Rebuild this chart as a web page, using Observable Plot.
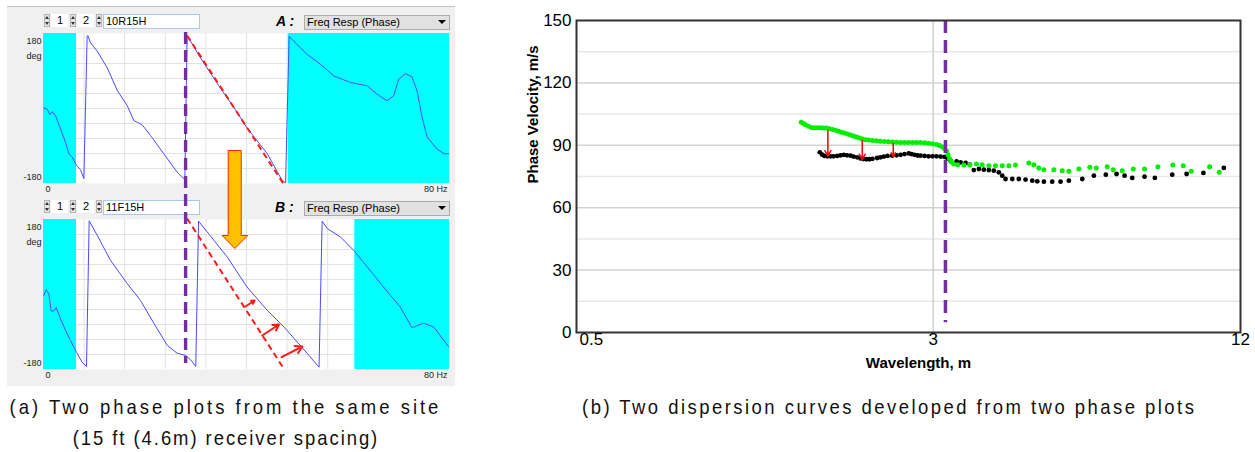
<!DOCTYPE html>
<html>
<head>
<meta charset="utf-8">
<script src="https://cdn.jsdelivr.net/npm/d3@7"></script>
<script src="https://cdn.jsdelivr.net/npm/@observablehq/plot@0.6"></script>
<style>
  html,body{margin:0;padding:0;background:#fff;}
  body{position:relative;width:1255px;height:452px;overflow:hidden;font-family:"Liberation Sans",Arial,sans-serif;}
  .abs{position:absolute;}
  .panel{left:7px;top:6px;width:448px;height:379px;background:#f0f0f0;border-top:1px solid #c4c4c4;}
  .spin{width:6px;height:13px;background:#e6e6e6;border:1px solid #b4b4b4;box-sizing:border-box;}
  .spin:before,.spin:after{content:"";position:absolute;left:0px;border-left:2px solid transparent;border-right:2px solid transparent;}
  .spin:before{top:1px;border-bottom:3px solid #333;}
  .spin:after{bottom:1px;border-top:3px solid #333;}
  .num{width:17px;height:13px;background:#fff;font-size:11px;line-height:13px;text-align:right;box-sizing:border-box;padding-right:5px;color:#000;}
  .tbox{width:97px;height:15px;background:#fff;border:1px solid #a9c9ea;box-sizing:border-box;font-size:11px;line-height:13px;padding-left:2px;color:#000;}
  .lbl{font-size:14px;font-weight:bold;font-style:italic;color:#000;}
  .dd{width:146px;height:15px;background:#e1e1e1;border:1px solid #acacac;box-sizing:border-box;font-size:11px;line-height:13px;padding-left:2px;color:#000;}
  .dd:after{content:"";position:absolute;right:3px;top:4px;border-left:4px solid transparent;border-right:4px solid transparent;border-top:4px solid #000;}
  .cap{width:800px;box-sizing:border-box;font-size:21px;color:#111;white-space:nowrap;text-align:center;line-height:22px;transform:scaleX(0.88);transform-origin:center;}
</style>
</head>
<body>
<div class="abs panel"></div>

<!-- header A -->
<div class="abs spin" style="left:44px;top:14px"></div>
<div class="abs num" style="left:51px;top:14px">1</div>
<div class="abs spin" style="left:70px;top:14px"></div>
<div class="abs num" style="left:77px;top:14px">2</div>
<div class="abs spin" style="left:96px;top:14px"></div>
<div class="abs tbox" style="left:103px;top:14px">10R15H</div>
<div class="abs lbl" style="left:276px;top:13px">A :</div>
<div class="abs dd" style="left:304px;top:15px">Freq Resp (Phase)</div>

<!-- header B -->
<div class="abs spin" style="left:44px;top:200px"></div>
<div class="abs num" style="left:51px;top:200px">1</div>
<div class="abs spin" style="left:70px;top:200px"></div>
<div class="abs num" style="left:77px;top:200px">2</div>
<div class="abs spin" style="left:96px;top:200px"></div>
<div class="abs tbox" style="left:103px;top:200px">11F15H</div>
<div class="abs lbl" style="left:275px;top:199px">B :</div>
<div class="abs dd" style="left:304px;top:201px">Freq Resp (Phase)</div>

<div id="phaseA" class="abs" style="left:0;top:0"></div>
<div id="phaseB" class="abs" style="left:0;top:140px"></div>
<div id="disp" class="abs" style="left:500px;top:0"></div>

<div class="abs cap" style="left:-176.5px;top:396px;letter-spacing:3.4px;padding-left:3.4px">(a) Two phase plots from the same site</div>
<div class="abs cap" style="left:-175px;top:427px;letter-spacing:2.2px;padding-left:2.2px">(15 ft (4.6m) receiver spacing)</div>
<div class="abs cap" style="left:487.5px;top:396px;letter-spacing:2.8px;padding-left:2.8px">(b) Two dispersion curves developed from two phase plots</div>

<script>
// ================= Panel (a): phase plots =================
const phaseAFreq = [0.07,0.72,1.25,1.71,2.37,3.35,4.34,5.0,5.65,6.5,7.29,7.95,8.6,8.74,9.26,10.57,12.54,14.5,16.5,17.8,18.5,19.4,21.1,23.7,26.3,27.85,28.3,28.5,30.9,34.55,37.5,40.1,44.1,47.0,47.7,48.4,49.3,51.95,54.6,57.2,60.5,63.8,65.7,67.7,69.0,70.0,71.3,72.6,73.6,74.6,75.6,77.5,78.9,79.9];
const phaseADeg  = [1.1,-1.3,-14.8,-7.6,-17.2,-49,-80.8,-108.6,-116.5,-136.4,-146.7,-168.2,173.6,175.2,157.7,137.9,98.1,44.1,6.7,-29.1,-33.1,-38.6,-64.9,-108.6,-152.3,-170.6,173.6,171.3,122,54.4,2.7,-46.6,-108.6,-172.2,-178.5,173.6,161.7,129.9,106.1,78.2,62.3,54.4,34.5,18.6,30.5,70.3,83.8,75.9,42.5,-21.1,-68.8,-96.7,-108.6,-108.6];
const phaseBFreq = [0.07,0.52,1.05,1.5,2.0,2.5,3.35,4.34,5.3,6.5,7.6,8.47,9.0,10.57,13.2,16.5,19.1,21.8,24.4,26.3,28.0,29.0,30.0,30.55,32.25,36.2,40.1,44.1,47.4,50.6,54.3,54.9,55.9,58.5,61.1,63.8,67.0,70.3,72.6,74.9,76.9,79.9];
const phaseBDeg  = [-2,11.6,2,-39.7,-39.7,-31.7,-58.1,-86.2,-110.2,-138.3,-162.4,-172.8,176.8,142.3,82.2,26,-14,-70.2,-122.3,-140.7,-146.3,-156.8,-172.8,176,150.3,90.2,18,-38.1,-78.2,-122.3,-174.4,176,158.4,138.3,106.2,66.1,18,-30.1,-79.8,-68.6,-78.2,-126.3];

const cyanA = [[0, 6.5], [48.25, 80]];
const cyanB = [[0, 6.5], [61.35, 80]];
const dashedAFreq = [28.3, 47.2],  dashedADeg = [175, -179];
const dashedBFreq = [28.3, 47.35], dashedBDeg = [182.4, -178];
const redArrowsBFrom = [[39.8, -28.8], [43.1, -98.4], [46.9, -150.4]];
const redArrowsBTo   = [[41.6, -14.4], [46.4, -72], [51.0, -124.8]];
const purpleFreq = 28.0;
const purpleASpan = [182.4, -196.8];
const purpleBSpan = [249.6, -165.6];
const orangeFreq = [36.39, 38.96, 38.96, 40.26, 37.7, 35.21, 36.39, 36.39];
const orangeDeg  = [345.6, 345.6, 141.6, 141.6, 110.4, 141.6, 141.6, 345.6];
const gridFreq = [8, 16, 24, 32, 40, 48, 56, 64, 72];
const gridDeg = [-144, -108, -72, -36, 0, 36, 72, 108, 144];
const phaseYLabels = ["180", "deg", "-180"];
const phaseXLabels = ["0", "80 Hz"];

const FONT = "'Liberation Sans', Arial, sans-serif";

function phasePlot(height, marginTop, freq, deg, cyan, dFreq, dDeg, extra) {
  const pts = freq.map((f, i) => ({f, d: deg[i]}));
  const dash = dFreq.map((f, i) => ({f, d: dDeg[i]}));
  return Plot.plot({
    width: 460, height,
    marginLeft: 43, marginRight: 11, marginTop, marginBottom: height - marginTop - 150,
    style: {background: "transparent", fontFamily: FONT, overflow: "visible"},
    x: {domain: [0, 80], axis: null},
    y: {domain: [-180, 180], axis: null},
    marks: [
      Plot.frame({fill: "#ffffff", stroke: "none"}),
      Plot.ruleX(gridFreq, {stroke: "#e2e2e2", strokeWidth: 1}),
      Plot.ruleY(gridDeg, {stroke: "#e2e2e2", strokeWidth: 1}),
      Plot.rect(cyan, {x1: d => d[0], x2: d => d[1], y1: d => -180, y2: d => 180, fill: "#00ffff"}),
      Plot.line(pts, {x: "f", y: "d", stroke: "#4b4bff", strokeWidth: 1}),
      Plot.line(dash, {x: "f", y: "d", stroke: "#ff1a1a", strokeWidth: 2, strokeDasharray: "6,4", strokeLinecap: "butt"}),
      Plot.text([phaseYLabels[0]], {text: d => d, frameAnchor: "top-left", dx: -2, dy: 4, textAnchor: "end", fontSize: 9, fill: "#222"}),
      Plot.text([phaseYLabels[1]], {text: d => d, frameAnchor: "top-left", dx: -2, dy: 19, textAnchor: "end", fontSize: 9, fill: "#222"}),
      Plot.text([phaseYLabels[2]], {text: d => d, frameAnchor: "bottom-left", dx: -2, dy: -4, textAnchor: "end", fontSize: 9, fill: "#222"}),
      Plot.text([phaseXLabels[0]], {text: d => d, frameAnchor: "bottom-left", dx: 2, dy: 8, textAnchor: "start", fontSize: 9, fill: "#222"}),
      Plot.text([phaseXLabels[1]], {text: d => d, frameAnchor: "bottom-right", dx: -2, dy: 8, textAnchor: "end", fontSize: 9, fill: "#222"}),
      ...extra
    ]
  });
}

const purpleA = Plot.ruleX([purpleFreq], {y1: d => purpleASpan[0], y2: d => purpleASpan[1], stroke: "#7030a0", strokeWidth: 3.4, strokeDasharray: "12,6"});
document.getElementById("phaseA").appendChild(
  phasePlot(200, 33, phaseAFreq, phaseADeg, cyanA, dashedAFreq, dashedADeg, [purpleA])
);

const arrowsB = redArrowsBFrom.map((p, i) => ({x1: p[0], y1: p[1], x2: redArrowsBTo[i][0], y2: redArrowsBTo[i][1]}));
const orangePoly = orangeFreq.map((f, i) => ({f, d: orangeDeg[i]}));
const extraB = [
  Plot.arrow(arrowsB, {x1: "x1", y1: "y1", x2: "x2", y2: "y2", stroke: "#ff1a1a", strokeWidth: 2, headLength: 7}),
  Plot.line(orangePoly, {x: "f", y: "d", fill: "#ffc000", stroke: "#ff2a00", strokeWidth: 1, strokeLinejoin: "miter"}),
  Plot.ruleX([purpleFreq], {y1: d => purpleBSpan[0], y2: d => purpleBSpan[1], stroke: "#7030a0", strokeWidth: 3.4, strokeDasharray: "12,6", strokeDashoffset: 14})
];
document.getElementById("phaseB").appendChild(
  phasePlot(260, 79, phaseBFreq, phaseBDeg, cyanB, dashedBFreq, dashedBDeg, extraB)
);

// ================= Panel (b): dispersion curves =================
const greenLambda = [1.654,1.671,1.686,1.709,1.732,1.756,1.780,1.804,1.829,1.854,1.879,1.905,1.931,1.957,1.984,2.010,2.038,2.066,2.094,2.122,2.151,2.181,2.210,2.241,2.281,2.323,2.365,2.408,2.452,2.497,2.542,2.589,2.636,2.684,2.733,2.782,2.833,2.885,2.937,2.991,3.045,3.087,3.129,3.157,3.185,3.207,3.229,3.258,3.292,3.352,3.444,3.539,3.647,3.742,3.856,3.974,4.096,4.219,4.349,4.618,4.724,4.831,4.942,5.169,5.369,5.532,5.787,6.081,6.259,6.577,6.757,7.038,7.398,7.783,8.267,8.844,9.27,9.61,10.44,10.90];
const greenVel = [101.1,100.5,99.9,99.2,98.6,98.4,98.4,98.4,98.3,98.3,98.0,97.6,97.2,96.8,96.3,95.9,95.4,95.0,94.5,94.0,93.5,93.0,92.7,92.5,92.3,92.2,92.0,91.8,91.7,91.6,91.5,91.4,91.4,91.4,91.4,91.3,91.3,91.2,91.0,90.8,90.4,89.9,89.2,88.4,87.2,85.5,83.5,82.0,81.0,80.7,80.5,80.5,81.0,80.7,80.2,80.2,80.2,80.2,80.5,81.5,80.7,79.1,78.3,78.3,77.8,77.5,78.6,79.4,79.1,79.7,78.3,77.8,78.6,78.6,79.7,80.5,80.2,77.5,79.7,77.0];
const blackLambda = [1.798,1.818,1.837,1.862,1.888,1.913,1.945,1.975,2.004,2.033,2.066,2.094,2.129,2.161,2.191,2.220,2.251,2.281,2.330,2.365,2.401,2.441,2.493,2.542,2.589,2.636,2.687,2.720,2.757,2.795,2.833,2.885,2.937,2.991,3.045,3.101,3.157,3.200,3.244,3.333,3.393,3.471,3.539,3.603,3.686,3.769,3.856,3.943,4.033,4.096,4.157,4.285,4.414,4.550,4.690,4.797,4.942,5.132,5.328,5.532,5.877,6.193,6.536,6.860,7.112,7.363,7.783,8.154,8.82,9.41,10.15,11.13];
const blackVel = [86.6,85.5,84.9,84.7,84.7,84.7,84.9,85.2,85.4,85.2,85.0,84.6,84.2,83.7,83.4,83.3,83.3,83.5,83.9,84.2,84.6,84.9,85.0,85.2,85.4,85.8,86.1,85.8,85.4,85.1,85.0,84.9,84.7,84.7,84.7,84.6,84.4,83.6,82.6,82.3,81.8,81.5,80.7,78.1,78.6,78.3,78.1,77.8,77.0,75.4,73.8,73.8,73.8,73.5,73.0,72.7,72.5,72.5,72.5,73.0,73.8,75.4,75.9,76.2,75.4,74.3,74.9,74.3,75.9,76.2,76.7,79.1];
const redArrowLambda = [1.865, 2.178, 2.505];
const redArrowFrom = [97.1, 92.3, 90.7];
const redArrowTo = [84.9, 83.2, 84.6];
const purpleLambda = 3.17;
const purpleVelSpan = [150, 4.7];
const xDomain = [0.6, 12];
const xGrid = [3];
const xTickValues = [0.6, 3, 12];
const xTickLabels = ["0.5", "3", "12"];
const yTicks = [0, 30, 60, 90, 120, 150];
const yMajorGrid = [30, 60, 90, 120];
const yMinorGrid = [15, 45, 75, 105, 135];
const xLabel = "Wavelength, m";
const yLabel = "Phase Velocity, m/s";

const green = greenLambda.map((l, i) => ({l, v: greenVel[i]}));
const black = blackLambda.map((l, i) => ({l, v: blackVel[i]}));
const redArr = redArrowLambda.map((l, i) => ({l, v1: redArrowFrom[i], v2: redArrowTo[i]}));
const xt = xTickValues.map((v, i) => ({v, t: xTickLabels[i]}));

const disp = Plot.plot({
  width: 755, height: 390,
  marginLeft: 76, marginRight: 15, marginTop: 20, marginBottom: 58,
  style: {background: "transparent", fontFamily: FONT, overflow: "visible"},
  x: {type: "log", domain: xDomain, axis: null},
  y: {domain: [0, 150], axis: null},
  marks: [
    Plot.ruleY(yMinorGrid, {stroke: "#e8e8e8", strokeWidth: 1.5}),
    Plot.ruleY(yMajorGrid, {stroke: "#d3d3d3", strokeWidth: 1.5}),
    Plot.ruleX(xGrid, {stroke: "#cfcfcf", strokeWidth: 1.5}),
    Plot.dot(black, {x: "l", y: "v", r: 2.4, fill: "#000000"}),
    Plot.dot(green, {x: "l", y: "v", r: 2.5, fill: "#00ee00"}),
    Plot.arrow(redArr, {x1: "l", x2: "l", y1: "v1", y2: "v2", stroke: "#ff0000", strokeWidth: 1.5, headLength: 6}),
    Plot.ruleX([purpleLambda], {y1: d => purpleVelSpan[0], y2: d => purpleVelSpan[1], stroke: "#7030a0", strokeWidth: 3.5, strokeDasharray: "13,7"}),
    Plot.frame({stroke: "#333333", strokeWidth: 2}),
    Plot.text(yTicks, {x: d => xDomain[0], y: d => d, text: d => String(d), textAnchor: "end", dx: -5, fontSize: 17, fill: "#000"}),
    Plot.text(xt.slice(0, 1), {x: "v", text: "t", frameAnchor: "bottom", dy: 12, dx: 3, textAnchor: "start", fontSize: 17, fill: "#000"}),
    Plot.text(xt.slice(1), {x: "v", text: "t", frameAnchor: "bottom", dy: 12, textAnchor: "middle", fontSize: 17, fill: "#000"}),
    Plot.text([xLabel], {text: d => d, frameAnchor: "bottom", dx: 10, dy: 35, fontWeight: "bold", fontSize: 15, fill: "#000"}),
    Plot.text([yLabel], {text: d => d, frameAnchor: "left", rotate: -90, dx: -43, dy: 7, fontWeight: "bold", fontSize: 15, fill: "#000"})
  ]
});
document.getElementById("disp").appendChild(disp);
</script>
</body>
</html>
